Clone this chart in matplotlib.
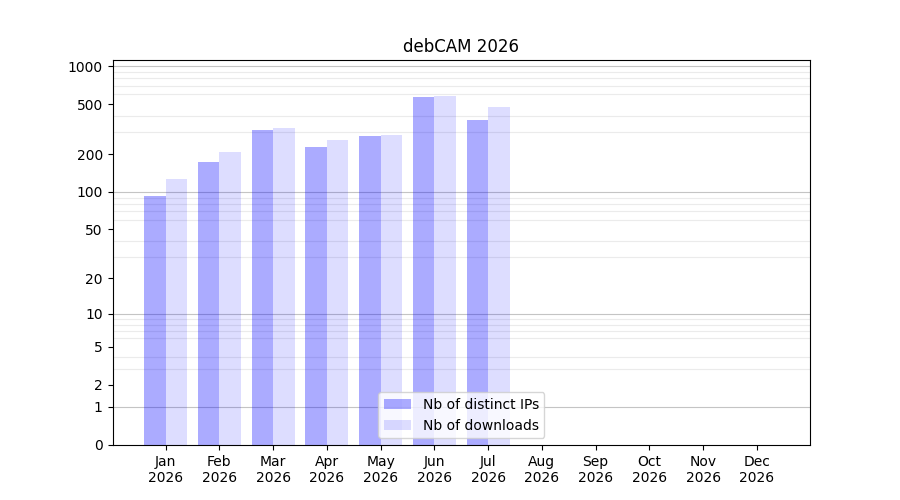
import matplotlib
matplotlib.use('AGG')
import matplotlib.pyplot as plt
import numpy as np
from matplotlib.ticker import FixedLocator, NullFormatter

months = ['Jan', 'Feb', 'Mar', 'Apr', 'May', 'Jun', 'Jul', 'Aug', 'Sep', 'Oct', 'Nov', 'Dec']
year = '2026'
ips = [93, 172, 309, 227, 277, 567, 372, 0, 0, 0, 0, 0]
downloads = [128, 207, 321, 258, 287, 577, 472, 0, 0, 0, 0, 0]
ytick_vals = [0, 1, 2, 5, 10, 20, 50, 100, 200, 500, 1000]

fig = plt.figure(figsize=(9, 5), dpi=100)
ax = fig.add_subplot(111)

# log(1+x) scale so that 0 is shown
ax.set_yscale('function', functions=(lambda v: np.log10(1 + np.maximum(v, 0)), lambda v: 10 ** v - 1))

x = np.arange(len(months))
ax.bar(x, ips, width=-0.4, align='edge', color='blue', alpha=0.33, label='Nb of distinct IPs', zorder=2)
ax.bar(x, downloads, width=0.4, align='edge', color='blue', alpha=0.135, label='Nb of downloads', zorder=2)

# light lines at every 1..9 x decade, darker at the decades
minor = [m * 10 ** d for d in range(0, 3) for m in range(2, 10)]
ax.yaxis.set_minor_locator(FixedLocator(minor))
ax.yaxis.set_minor_formatter(NullFormatter())
ax.tick_params(axis='y', which='minor', length=0)
ax.set_axisbelow(True)
ax.grid(True, which='minor', axis='y', color='#ebebeb', linewidth=0.8)
for d in [1, 10, 100, 1000]:
    ax.axhline(d, color='#c4c4c4', linewidth=0.8, zorder=0.8)

ax.set_yticks(ytick_vals)
ax.set_yticklabels([str(v) for v in ytick_vals])
ax.set_ylim(0, 1120)

ax.set_xticks(x)
ax.set_xticklabels([m + '\n' + year for m in months])
ax.set_title('debCAM ' + year)
ax.legend(loc='lower center')

plt.savefig('out.png')
